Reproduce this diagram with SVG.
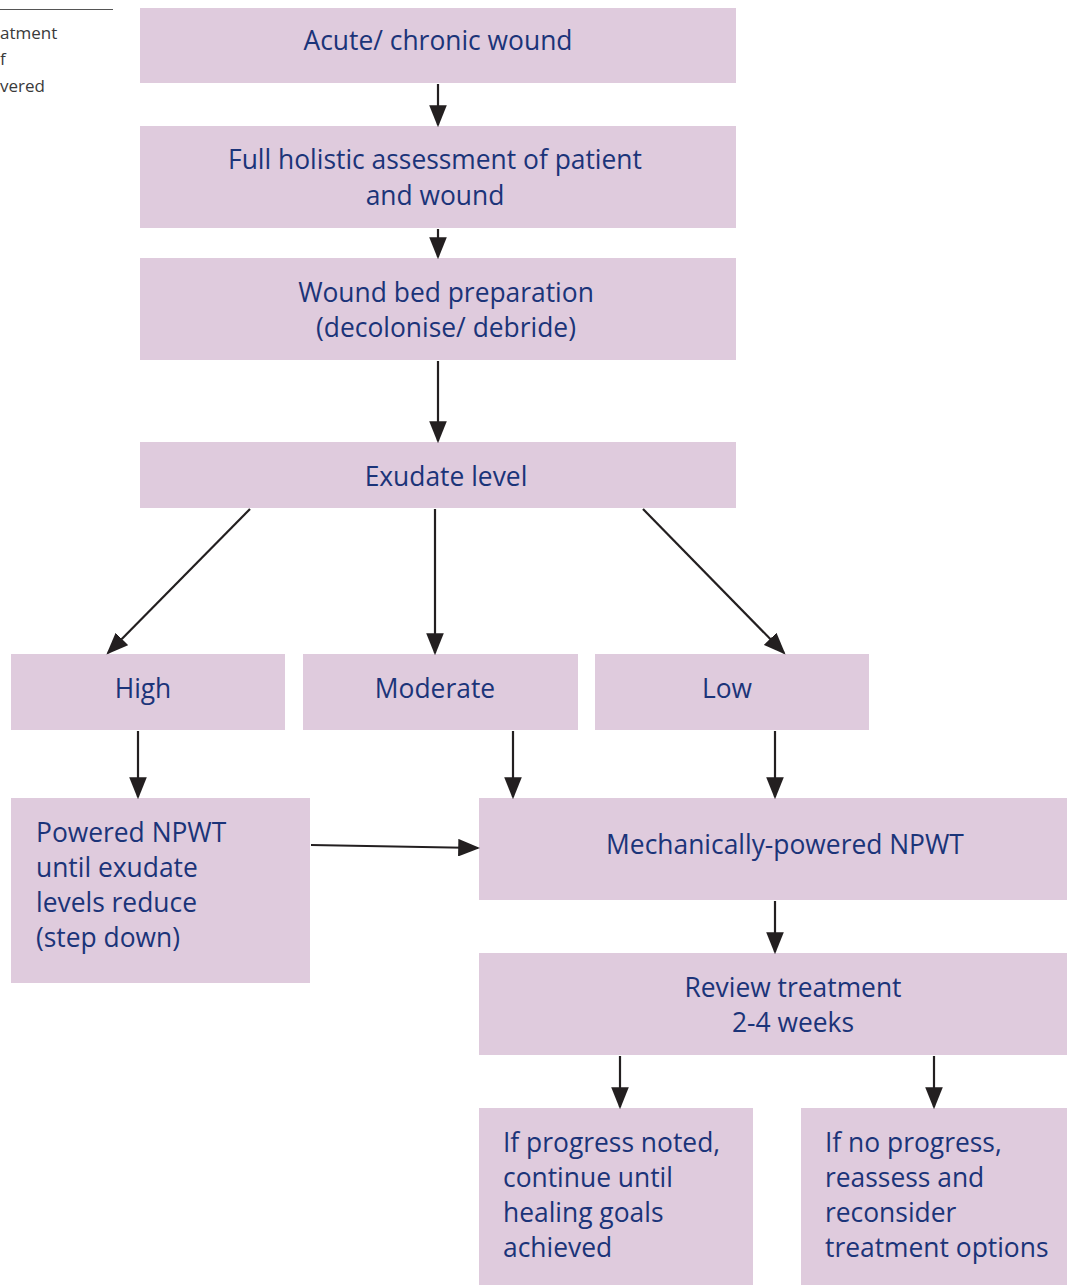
<svg xmlns="http://www.w3.org/2000/svg" width="1067" height="1285" viewBox="0 0 1067 1285">
<defs>
<style>
.box{fill:#dfcbdd;}
.t{font-family:"Open Sans","Noto Sans",sans-serif;font-size:26.4px;fill:#1b3479;}
.c{text-anchor:middle;}
.side{font-family:"Open Sans","Noto Sans",sans-serif;font-size:17px;fill:#3a3a3a;}
.ln{stroke:#231f20;stroke-width:2.2;fill:none;marker-end:url(#ah);}
</style>
<marker id="ah" markerWidth="10" markerHeight="8" refX="9" refY="4" orient="auto" markerUnits="strokeWidth">
<path d="M0,0 L10,4 L0,8 Z" fill="#231f20"/>
</marker>
</defs>
<rect width="1067" height="1285" fill="#ffffff"/>
<g id="sidenote">
<line x1="0" y1="9.5" x2="113" y2="9.5" stroke="#555" stroke-width="1"/>
<text class="side" x="0" y="39">atment</text>
<text class="side" x="0" y="65">f</text>
<text class="side" x="0" y="92">vered</text>
</g>
<g id="n1"><rect class="box" x="140" y="8" width="596" height="75"/><text class="t c" x="438" y="50">Acute/ chronic wound</text></g>
<g id="n2"><rect class="box" x="140" y="126" width="596" height="102"/><text class="t c" x="435" y="169">Full holistic assessment of patient</text><text class="t c" x="435" y="205">and wound</text></g>
<g id="n3"><rect class="box" x="140" y="258" width="596" height="102"/><text class="t c" x="446" y="302">Wound bed preparation</text><text class="t c" x="446" y="337">(decolonise/ debride)</text></g>
<g id="n4"><rect class="box" x="140" y="442" width="596" height="66"/><text class="t c" x="446" y="486">Exudate level</text></g>
<g id="n5"><rect class="box" x="11" y="654" width="274" height="76"/><text class="t c" x="143" y="698">High</text></g>
<g id="n6"><rect class="box" x="303" y="654" width="275" height="76"/><text class="t c" x="435" y="698">Moderate</text></g>
<g id="n7"><rect class="box" x="595" y="654" width="274" height="76"/><text class="t c" x="727" y="698">Low</text></g>
<g id="n8"><rect class="box" x="11" y="798" width="299" height="185"/>
<text class="t" x="36" y="842">Powered NPWT</text><text class="t" x="36" y="877">until exudate</text><text class="t" x="36" y="912">levels reduce</text><text class="t" x="36" y="947">(step down)</text></g>
<g id="n9"><rect class="box" x="479" y="798" width="588" height="102"/><text class="t c" x="785" y="854">Mechanically-powered NPWT</text></g>
<g id="n10"><rect class="box" x="479" y="953" width="588" height="102"/><text class="t c" x="793" y="997">Review treatment</text><text class="t c" x="793" y="1032">2-4 weeks</text></g>
<g id="n11"><rect class="box" x="479" y="1108" width="274" height="177"/>
<text class="t" x="503" y="1152">If progress noted,</text><text class="t" x="503" y="1187">continue until</text><text class="t" x="503" y="1222">healing goals</text><text class="t" x="503" y="1257">achieved</text></g>
<g id="n12"><rect class="box" x="801" y="1108" width="266" height="177"/>
<text class="t" x="825" y="1152">If no progress,</text><text class="t" x="825" y="1187">reassess and</text><text class="t" x="825" y="1222">reconsider</text><text class="t" x="825" y="1257">treatment options</text></g>
<g id="connectors">
<line class="ln" x1="438" y1="84" x2="438" y2="125"/>
<line class="ln" x1="438" y1="229" x2="438" y2="257"/>
<line class="ln" x1="438" y1="361" x2="438" y2="441"/>
<line class="ln" x1="250" y1="509" x2="108" y2="653"/>
<line class="ln" x1="435" y1="509" x2="435" y2="653"/>
<line class="ln" x1="643" y1="509" x2="784" y2="653"/>
<line class="ln" x1="138" y1="731" x2="138" y2="797"/>
<line class="ln" x1="513" y1="731" x2="513" y2="797"/>
<line class="ln" x1="775" y1="731" x2="775" y2="797"/>
<line class="ln" x1="311" y1="845" x2="478" y2="848"/>
<line class="ln" x1="775" y1="901" x2="775" y2="952"/>
<line class="ln" x1="620" y1="1056" x2="620" y2="1107"/>
<line class="ln" x1="934" y1="1056" x2="934" y2="1107"/>
</g>
</svg>
